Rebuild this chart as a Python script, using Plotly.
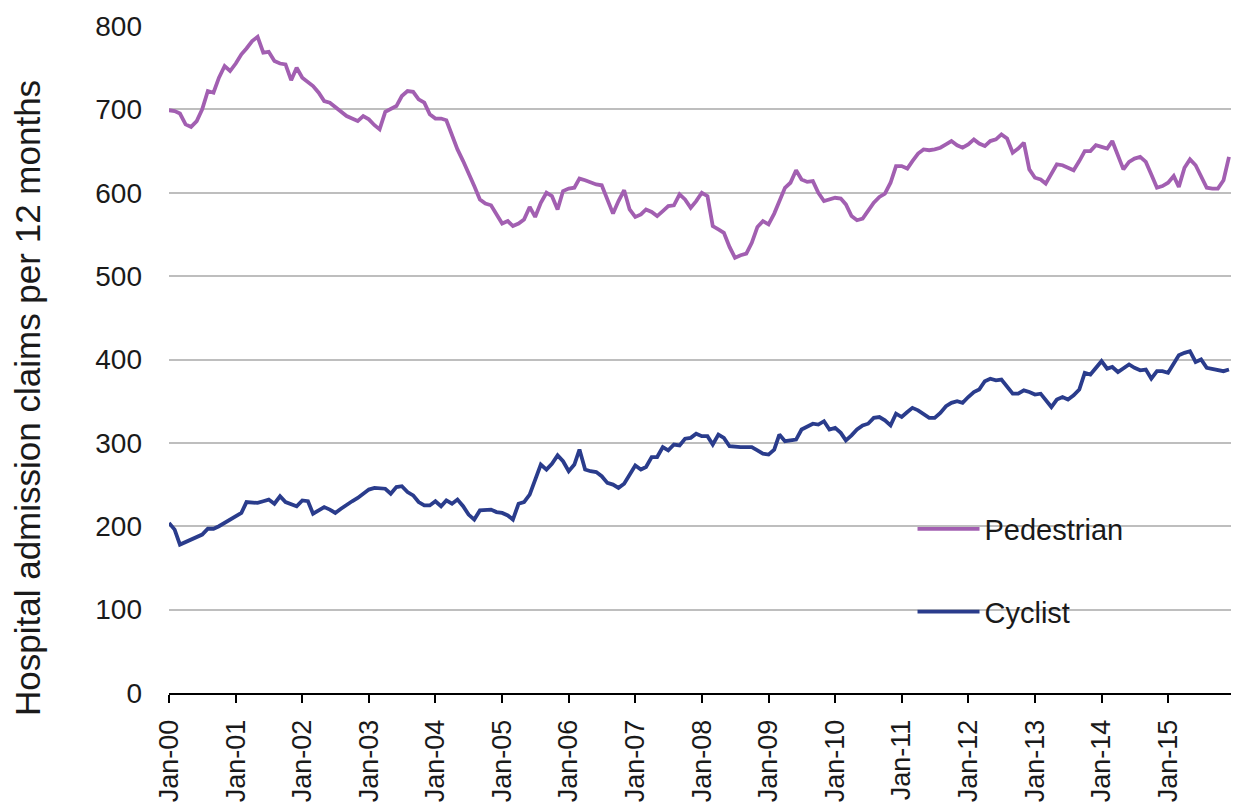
import plotly.graph_objects as go
from datetime import date

# ---- data (monthly, Jan-2000 .. Dec-2015) ----
start_year = 2000
n_months = 192
months = [date(start_year + i // 12, i % 12 + 1, 1).isoformat() for i in range(n_months)]

pedestrian = [
    699, 698, 695, 682, 679, 686, 700, 722, 720, 738, 752, 746,
    755, 766, 773, 782, 787, 768, 769, 758, 755, 754, 735, 750,
    738, 733, 728, 720, 710, 708, 703, 697, 692, 689, 686, 692,
    688, 681, 676, 697, 700, 704, 716, 722, 721, 712, 708, 694,
    689, 689, 687, 668, 652, 638, 622, 608, 592, 587, 585, 575,
    563, 566, 560, 563, 568, 583, 571, 588, 600, 596, 580, 602,
    605, 606, 617, 615, 612, 610, 609, 592, 575, 590, 603, 580,
    571, 574, 580, 577, 572, 578, 584, 585, 598, 592, 582, 590,
    600, 596, 560, 556, 552, 535, 522, 525, 527, 540, 559, 566,
    562, 575, 590, 606, 612, 627, 616, 613, 614, 600, 590, 592,
    594, 593, 586, 572, 567, 569, 578, 588, 595, 599, 612, 632,
    632, 629, 638, 647, 652, 651, 652, 654, 658, 662, 657, 654,
    658, 664, 659, 656, 662, 664, 670, 665, 648, 653, 660, 628,
    618, 616, 611, 622, 634, 633, 630, 627, 638, 650, 650, 657,
    655, 653, 662, 645, 628, 637, 641, 643, 637, 622, 606, 608,
    612, 620, 607, 630, 640, 633, 620, 606, 605, 605, 615, 643,
]

cyclist = [
    204, 196, 178, 181, 183, 186, 190, 197, 197, 200, 204, 208,
    212, 216, 229, 229, 228, 230, 232, 227, 236, 229, 227, 224,
    231, 230, 215, 219, 223, 220, 216, 221, 226, 230, 234, 239,
    244, 246, 246, 245, 239, 247, 248, 241, 237, 229, 225, 225,
    230, 224, 231, 227, 232, 224, 214, 208, 219, 220, 220, 217,
    216, 213, 208, 227, 229, 238, 255, 274, 268, 275, 285, 278,
    266, 274, 292, 268, 266, 265, 260, 252, 250, 246, 251, 262,
    273, 268, 271, 283, 283, 295, 291, 298, 297, 305, 306, 311,
    308, 308, 298, 310, 306, 296, 295, 295, 295, 295, 291, 287,
    286, 292, 310, 302, 303, 304, 316, 319, 323, 322, 326, 316,
    318, 312, 303, 309, 316, 321, 323, 330, 331, 327, 321, 335,
    331, 337, 342, 339, 334, 330, 330, 336, 344, 348, 350, 348,
    355, 361, 364, 374, 377, 375, 376, 368, 359, 359, 363, 361,
    358, 359, 352, 343, 352, 355, 352, 357, 364, 384, 382, 390,
    398, 389, 391, 385, 390, 394, 390, 387, 388, 377, 386, 386,
    384, 395, 405, 408, 410, 397, 400, 390, 389, 388, 386, 388,
]

tick_dates = [date(y, 1, 1).isoformat() for y in range(2000, 2016)]
tick_labels = [f"Jan-{y % 100:02d}" for y in range(2000, 2016)]
y_ticks = [0, 100, 200, 300, 400, 500, 600, 700, 800]

PED_COLOR = "#A25FB1"
CYC_COLOR = "#2A3C8C"
FONT = "Liberation Sans, Arial, sans-serif"

fig = go.Figure()
fig.add_trace(go.Scatter(x=months, y=pedestrian, mode="lines", name="Pedestrian",
                         legendgroup="p", line=dict(color=PED_COLOR, width=3.8),
                         cliponaxis=False))
fig.add_trace(go.Scatter(x=months, y=cyclist, mode="lines", name="Cyclist",
                         legendgroup="c", line=dict(color=CYC_COLOR, width=3.8),
                         cliponaxis=False))

end_date = "2015-12-23"
fig.update_xaxes(
    type="date",
    range=[tick_dates[0], end_date],
    tickvals=tick_dates + [end_date],
    ticktext=tick_labels + [""],
    tickangle=-90,
    ticks="outside", ticklen=8, tickwidth=2, tickcolor="#000",
    showline=True, linecolor="#000", linewidth=2,
    showgrid=False, zeroline=False,
    tickfont=dict(family=FONT, size=27, color="#1a1a1a"),
    ticklabelstandoff=6,
    automargin=False,
)
fig.update_yaxes(
    range=[0, 800],
    tickvals=y_ticks,
    showgrid=True, gridcolor="#BEBEBE", gridwidth=2,
    showline=False, zeroline=False, ticks="",
    tickfont=dict(family=FONT, size=28, color="#1a1a1a"),
    ticklabelstandoff=26,
    automargin=False,
)

fig.add_annotation(
    text="Hospital admission claims per 12 months",
    xref="paper", yref="paper", x=-0.133, y=0.443,
    xanchor="center", yanchor="middle",
    textangle=-90, showarrow=False,
    font=dict(family=FONT, size=35, color="#1a1a1a"),
)

# white area behind the legend (interrupts gridlines as in the original)
fig.add_shape(type="rect", xref="paper", yref="paper",
              x0=0.6485, x1=0.9596, y0=0.08, y1=0.30,
              fillcolor="white", line=dict(width=0), layer="between")

# page body has an 8px margin, so the figure is shrunk/offset accordingly
fig.update_layout(
    width=1231, height=797,
    margin=dict(l=161, r=6, t=18, b=112),
    plot_bgcolor="white", paper_bgcolor="white",
    showlegend=True,
    legend=dict(
        x=0.6988, y=0.284, xanchor="left", yanchor="top",
        bgcolor="rgba(0,0,0,0)",
        font=dict(family=FONT, size=29, color="#1a1a1a"),
        itemwidth=62,
        tracegroupgap=42,
    ),
)

fig.write_html("out.html")
